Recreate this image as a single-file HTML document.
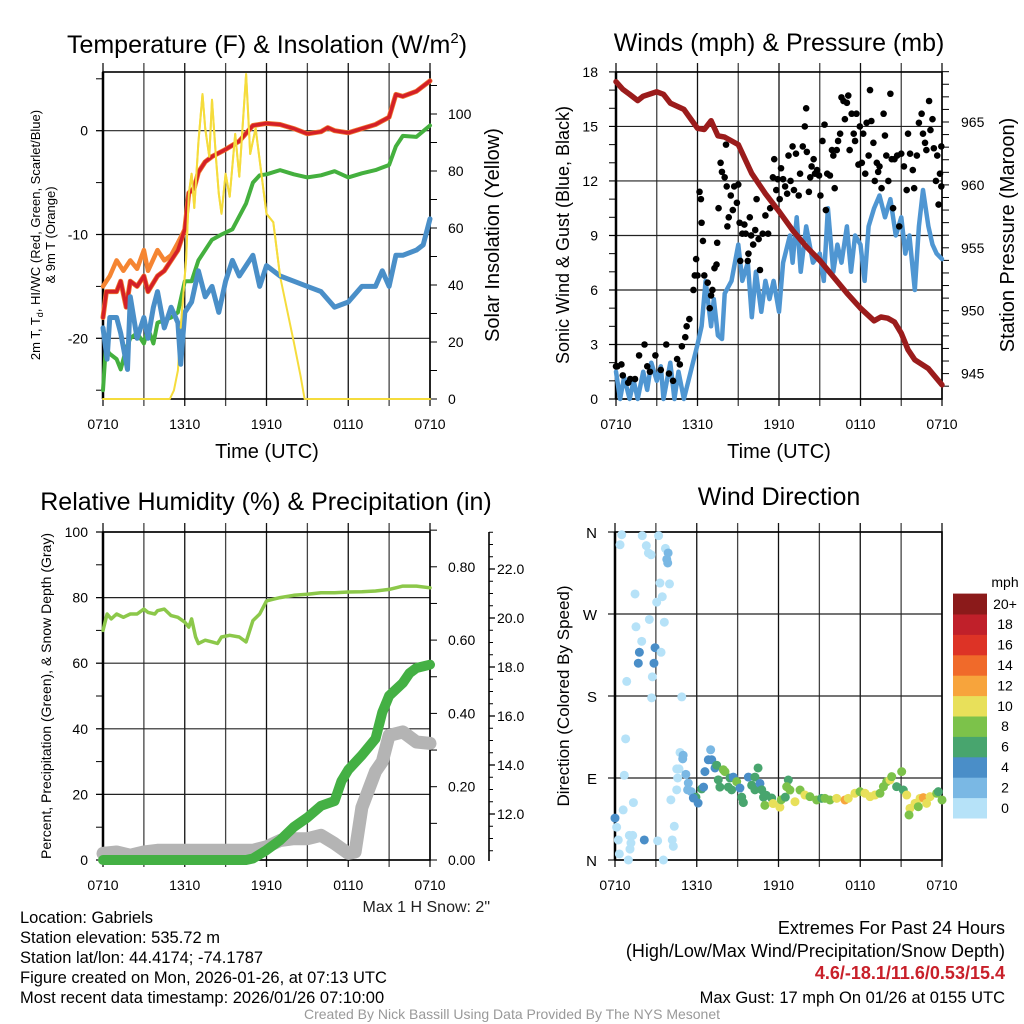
<!DOCTYPE html>
<html><head><meta charset="utf-8"><style>
html,body{margin:0;padding:0;background:#fff;}
svg{display:block;font-family:"Liberation Sans",Arial,sans-serif;}
</style></head><body>
<svg id="chart" xmlns="http://www.w3.org/2000/svg" width="1024" height="1024" viewBox="0 0 1024 1024">
<rect width="1024" height="1024" fill="#fff"/>
<text x="267" y="53" font-size="25" text-anchor="middle">Temperature (F) &amp; Insolation (W/m<tspan font-size="15" dy="-10">2</tspan><tspan dy="10">)</tspan></text>
<text x="779" y="51" font-size="25" text-anchor="middle">Winds (mph) &amp; Pressure (mb)</text>
<text x="266" y="510" font-size="25" text-anchor="middle">Relative Humidity (%) &amp; Precipitation (in)</text>
<text x="779" y="505" font-size="25" text-anchor="middle">Wind Direction</text>
<text x="267" y="458" font-size="20" text-anchor="middle">Time (UTC)</text>
<text x="779" y="458" font-size="20" text-anchor="middle">Time (UTC)</text>
<text transform="translate(40,235) rotate(-90)" font-size="13" text-anchor="middle">2m T, T<tspan font-size="9" dy="3">d</tspan><tspan dy="-3">, HI/WC (Red, Green, Scarlet/Blue)</tspan></text>
<text transform="translate(55,235) rotate(-90)" font-size="13" text-anchor="middle">&amp; 9m T (Orange)</text>
<text transform="translate(499,235) rotate(-90)" font-size="20" text-anchor="middle">Solar Insolation (Yellow)</text>
<text transform="translate(569,235) rotate(-90)" font-size="18" text-anchor="middle">Sonic Wind &amp; Gust (Blue, Black)</text>
<text transform="translate(1014,235) rotate(-90)" font-size="20" text-anchor="middle">Station Pressure (Maroon)</text>
<text transform="translate(51,696) rotate(-90)" font-size="14" text-anchor="middle">Percent, Precipitation (Green), &amp; Snow Depth (Gray)</text>
<text transform="translate(569,696) rotate(-90)" font-size="17" text-anchor="middle">Direction (Colored By Speed)</text>
<text x="490" y="912" font-size="16" text-anchor="end" fill="#222">Max 1 H Snow: 2"</text>
<g font-size="16.5" fill="#000">
<text x="20" y="923">Location: Gabriels</text>
<text x="20" y="943">Station elevation: 535.72 m</text>
<text x="20" y="963">Station lat/lon: 44.4174; -74.1787</text>
<text x="20" y="983">Figure created on Mon, 2026-01-26, at 07:13 UTC</text>
<text x="20" y="1003">Most recent data timestamp: 2026/01/26 07:10:00</text>
</g>
<g font-size="18" text-anchor="end">
<text x="1005" y="934">Extremes For Past 24 Hours</text>
<text x="1005" y="957">(High/Low/Max Wind/Precipitation/Snow Depth)</text>
<text x="1005" y="979" fill="#c8202a" font-weight="bold">4.6/-18.1/11.6/0.53/15.4</text>
<text x="1005" y="1003" font-size="16.5">Max Gust: 17 mph On 01/26 at 0155 UTC</text>
</g>
<text x="512" y="1019" font-size="14" fill="#999" text-anchor="middle">Created By Nick Bassill Using Data Provided By The NYS Mesonet</text>
<g id="layer"></g>
</svg>
<script>
// ---------- Panel 1: temperature ----------
const tempHours=[0,0.25,1,1.3,1.7,2,2.5,3,3.3,4,4.5,5,5.5,6,6.3,6.7,7,7.5,8,9,10,11,12,13,14,15,16,16.5,17,18,19,20,21,21.5,22,23,24];
const tempValues=[-18,-15.5,-15.5,-14.5,-17,-14.5,-15,-14,-15.5,-14,-13.5,-12.5,-11.5,-9.5,-6,-5.5,-4,-3,-2.5,-1.8,-1,0.5,0.7,0.6,0.2,-0.3,-0.1,0.3,0,-0.2,0.2,0.6,1.3,3.5,3.3,3.8,4.8];
const t9mHours=[0,0.5,1,1.5,2,2.5,3,3.3,4,4.5,5,5.5,6];
const t9mValues=[-15,-14,-12.5,-13.5,-12.5,-13.3,-11.5,-13.5,-11.5,-12.5,-12,-10.8,-9.5];
const dewHours=[0,0.2,0.5,1,1.3,1.7,2,2.5,3,3.3,3.7,4,5,5.5,6,6.5,7,8,8.7,9.5,10.5,11,11.5,12,13,14,15,16,17,18,19,20,21,21.5,22,23,24];
const dewValues=[-25,-21,-21.5,-22,-23,-21,-20,-19.5,-20.5,-19,-20.5,-18.5,-18,-17.5,-14.5,-14.5,-12.5,-10.5,-10,-9.5,-7,-5,-4.3,-4.2,-3.8,-4.2,-4.5,-4.3,-3.9,-4.5,-4.1,-3.8,-3.3,-1.5,-0.5,-0.6,0.5];
const wcHours=[0,0.3,0.5,1,1.3,1.8,2,2.5,3,3.3,3.7,4,4.5,5,5.5,5.7,6,6.5,7,7.5,8,8.5,9,9.5,10,10.5,11,11.5,12,13,14,15,16,17,18,19,20,20.5,21,21.5,22,23,23.5,24];
const wcValues=[-19,-22,-18,-18,-19.5,-23,-16,-20,-18,-20,-17,-15.5,-19,-17,-18.5,-22.5,-17.5,-16.5,-13.5,-16,-15,-17.5,-14.5,-12.5,-14,-13,-12,-15,-13,-14,-14.5,-15,-15.5,-17,-16.5,-15,-15,-13.5,-15,-12,-12,-11.5,-11,-8.5];
const solarHours=[0,4.9,5.2,5.5,5.7,6.1,6.3,6.5,6.7,7,7.3,7.5,7.8,8,8.3,8.5,8.7,9,9.3,9.7,10,10.5,10.8,11.2,12,12.5,13,14,14.5,14.8,24];
const solarValues=[0,0,3,10,25,49,72,79,67,90,107,95,85,105,84,72,65,79,71,93,78,114,86,95,65,62,43,20,8,0,0];
const tempTicks=[-20,-10,0];
const solarTicks=[0,20,40,60,80,100];
const timeLabels=["0710","1310","1910","0110","0710"];
// ---------- Panel 2: winds ----------
const presHours=[0,0.5,1,1.6,2,3,3.5,4,5,6,6.5,7,7.5,8,9,10,11,12,13,14,15,16,17,18,19,19.5,20,20.5,21,21.5,22,23,24];
const presValues=[968.2,967.6,967.2,966.7,967.05,967.4,967.2,966.5,966,964.5,964.4,965.1,963.9,963.8,963.2,960.9,959.3,957.9,956.4,955.1,954,952.7,951.4,950.2,949.2,949.5,949.4,949.1,948.2,946.9,946.1,945.4,944.1];
const windHours=[0,0.3,0.6,1,1.3,1.6,2,2.3,2.6,3,3.3,3.5,4,4.3,4.6,5,5.5,6,6.3,6.6,7,7.2,7.5,7.8,8,8.5,9,9.3,9.7,10,10.3,10.7,11,11.3,11.6,12,12.3,12.8,13,13.3,13.6,14,14.5,15,15.3,15.6,16,16.3,16.6,17,17.3,17.6,18,18.3,18.6,19,19.4,19.8,20.2,20.6,21,21.3,21.6,22,22.3,22.6,23,23.3,23.6,24];
const windValues=[1.5,0,1.2,0,1,0,1.5,0.5,2,1,1.8,0,2,0,1.5,0,1.5,3,4,6.5,4,5.5,3.5,3.3,5.8,6.5,8.5,6.5,7.5,4.5,7,4.8,6.5,5.5,6.5,4.8,7.5,9,7.5,10,7,9.5,7.5,8,6.5,10.5,7,8.5,7.5,9.5,7,9,8.5,6.5,9.5,10.5,11.2,10,11,9,10,8,9,6,9.5,11.5,9.5,8.5,8,7.7];
const gustHours=[0,0.1,0.4,0.5,0.9,1.05,1.4,1.7,2.1,2.3,2.5,2.9,3.3,3.7,3.9,4.2,4.5,4.7,4.85,5.1,5.2,5.4,5.7,5.8,5.9,6,6.15,6.25,6.3,6.4,6.5,6.75,6.9,7,7.1,7.25,7.4,7.45,7.55,7.7,7.8,8,8.1,8.15,8.2,8.3,8.45,8.6,8.7,8.9,9,9.1,9.15,9.3,9.45,9.55,9.7,9.75,9.85,9.95,10.1,10.25,10.35,10.5,10.6,10.8,11,11.2,11.35,11.55,11.65,11.8,11.9,12.05,12.15,12.3,12.45,12.6,12.7,12.85,13,13.1,13.25,13.45,13.55,13.75,13.9,14,14.05,14.2,14.3,14.4,14.55,14.65,14.8,14.95,15.05,15.2,15.35,15.45,15.55,15.75,15.9,16,16.1,16.25,16.35,16.5,16.6,16.75,16.85,17,17.1,17.2,17.35,17.5,17.6,17.7,17.85,17.95,18.1,18.2,18.35,18.45,18.6,18.7,18.8,18.95,19.05,19.2,19.3,19.4,19.55,19.7,19.8,19.9,20.05,20.2,20.3,20.4,20.5,20.7,20.85,21,21.2,21.4,21.5,21.65,21.85,21.95,22.15,22.3,22.5,22.6,22.75,22.85,23.05,23.15,23.3,23.4,23.55,23.65,23.75,23.85,23.95,23.95];
const gustValues=[1.8,1.8,1.9,1.3,0.9,1.1,1.1,2.4,3.0,1.8,1.5,2.4,1.6,3.0,1.4,1.0,2.2,1.9,2.9,3.4,4.0,4.4,6.0,6.8,7.7,6.8,11.4,11.0,9.7,8.7,6.8,6.4,5.0,5.7,6.0,7.2,7.4,8.6,10.5,13.0,12.5,12.2,14.0,11.7,9.5,10.0,11.2,10.4,11.7,10.8,11.8,9.7,7.6,9.1,9.6,9.1,7.6,8.0,10.0,9.0,8.5,9.3,11.0,8.8,7.1,9.1,10.1,9.1,10.5,12.2,13.2,11.5,12.1,11.0,12.7,12.1,11.7,11.3,13.4,12.0,13.9,11.5,13.5,11.2,12.4,13.9,15.0,16.0,13.6,11.4,12.2,12.8,13.2,12.4,12.6,12.3,11.2,14.2,15.1,10.4,12.4,12.3,13.7,13.4,11.6,13.7,14.2,14.6,16.6,16.4,15.4,16.3,16.7,13.7,15.7,14.6,14.2,15.7,12.9,15.0,13.0,14.6,12.4,15.2,13.4,17.0,15.3,14.1,12.0,13.0,12.5,12.8,11.6,15.7,14.5,13.4,12.0,16.8,13.2,10.5,13.2,13.4,9.5,13.5,12.8,11.5,14.6,13.5,12.6,11.6,13.4,15.2,15.7,14.6,14.1,13.7,16.4,14.8,15.4,13.8,12.0,13.4,10.7,12.4,11.7,13.9];
const windTicks=[0,3,6,9,12,15,18];
const presTicks=[945,950,955,960,965];
// ---------- Panel 3: humidity / precip / snow ----------
const rhHours=[0,0.3,0.6,1,1.5,2,2.5,3,3.3,3.8,4,4.5,5,5.5,6,6.3,6.5,6.8,7,7.5,8,8.4,8.7,9.3,10,10.5,11,11.5,12,12.5,13,14,15,16,17,18,19,20,21,21.5,22,23,24];
const rhValues=[70,75,73.5,75,74,75,75,76.5,75.5,75,76,76.5,74.5,74,72.5,71,73.5,68,66,67,66.5,66,68,68.5,68,66.5,73,75,79,79.5,80,80.7,81,81.5,81.5,81.7,81.8,82,82.5,83,83.5,83.5,83];
const precipHours=[0,10.5,11,12,13,14,15,16,17,17.5,18,19,20,20.5,21,22,22.5,23,24];
const precipValues=[0,0,0.004,0.027,0.054,0.09,0.116,0.148,0.161,0.215,0.246,0.286,0.331,0.403,0.448,0.483,0.51,0.524,0.533];
const snowHours=[0,1,2,3,4,6,8,10,11,12,13,14,15,16,17,18,18.5,19,20,20.5,21,22,23,24];
const snowValues=[10.39,10.45,10.32,10.45,10.52,10.52,10.52,10.52,10.52,10.66,10.92,10.99,10.99,11.13,10.79,10.39,10.45,12.27,13.74,14.14,15.21,15.35,14.94,14.88];
const pctTicks=[0,20,40,60,80,100];
const precipTicks=[0,0.2,0.4,0.6,0.8];
const snowTicks=[12,14,16,18,20,22];
// ---------- Panel 4: wind direction ----------
const dirHours=[0.49,0.37,2.0,2.3,2.45,2.65,3.2,3.7,3.9,3.8,3.87,3.3,4.0,1.47,3.47,3.06,2.52,3.62,1.54,1.96,2.94,1.79,3.38,1.71,2.86,2.74,0.86,2.69,4.9,0.78,4.77,5.0,4.97,4.53,4.7,5.2,0.68,4.6,5.38,5.33,5.6,5.94,5.75,6.1,6.36,6.5,4.53,4.1,1.35,0.6,0,0.12,0.24,1.05,1.3,1.17,1.1,2.15,3.13,4.2,4.28,4.35,0.32,0.98,3.55,7.02,6.85,7.1,6.6,7.34,7.46,7.95,8.07,7.58,7.7,8.44,8.68,8.32,8.56,8.93,9.17,9.3,9.42,9.79,10.27,10.5,10.03,10.27,10.64,10.77,10.9,11.1,11.5,11.0,11.6,12.1,12.2,12.5,12.72,12.6,12.84,13.21,13.58,13.94,14.31,14.8,15.17,15.41,15.78,16.27,16.88,17.12,17.61,17.98,18.35,18.72,19.08,19.45,19.7,19.94,20.18,20.31,20.67,21.04,21.16,21.41,21.65,21.58,22.02,22.39,22.63,22.26,22.87,23.12,23.61,23.73,24];
const dirValues=[357,346,356,345,337,335,356,342,337,330,326,304,303,292,289,283,264,261,256,240,233,228,228,216,216,201,196,178,179,133,118,115,111,100,100,94,93,90,84.5,77,75,69,68,62.5,78,80,77,66,63,55,46,36,22,27,27,18.6,12,22,21,22,15,37,6.6,0,0,121,110,110,97,101,104,99,97,88,80,90,91,80,77,86,79,69,63,91,91,101,82,77,84,77,69,71,68,60,62,58,66,69,87.8,80.5,76.8,64,76.8,71.3,69.5,65.9,67.7,67.7,65.9,67.7,65.9,67.7,73.2,75,73.2,69.5,71.3,73.2,80.5,86,87.8,91.5,80.5,97,76.8,71.3,56.7,49.4,62.2,67.7,68.4,58.5,62.2,69.5,73.2,75,65.9];
const dirSpeeds=[0,0,0,0,0,0,0,0,2,2,2,0,0,0,0,0,0,0,0,0,4,4,0,4,4,0,0,0,0,0,0,2,2,0,0,2,0,0,2,2,2,6,4,4,6,4,0,0,0,0,4,0,0,0,0,0,0,4,0,0,0,0,0,0,0,2,4,4,4,4,6,8,8,6,6,6,4,6,6,8,4,6,6,4,6,6,6,6,4,6,6,6,6,8,10,10,8,6,6,8,8,10,8,10,8,8,6,8,8,10,12,10,10,8,10,10,10,8,8,8,10,8,6,8,6,10,10,8,10,10,12,8,10,10,8,6,8];
const dirTicks=[0,90,180,270,360];
const dirTickLabels=["N","E","S","W","N"];
const speedClasses=[0,2,4,6,8,10,12,14,16,18,20];
const speedLabels=["0","2","4","6","8","10","12","14","16","18","20+"];
const speedColors=["#b6e2f8","#7ab8e4","#4a8ec8","#48a56e","#7cc24a","#e8e05a","#f7a43c","#f06a2a","#dd3326","#c0202a","#8b1a1a"];

// ---------- scales ----------
const NS="http://www.w3.org/2000/svg";
const layer=document.getElementById('layer');
function mk(tag,attrs,parent){const e=document.createElementNS(NS,tag);for(const k in attrs)e.setAttribute(k,attrs[k]);(parent||layer).appendChild(e);return e;}
function xs(x0,x1){return t=>x0+t/24*(x1-x0);}
const P1={x0:103,x1:430,y0:72,y1:399};
const P2={x0:616,x1:942,y0:72,y1:399};
const P3={x0:103,x1:430,y0:532,y1:860};
const P4={x0:615,x1:942,y0:532,y1:860};
const x1s=xs(P1.x0,P1.x1), x2s=xs(P2.x0,P2.x1), x3s=xs(P3.x0,P3.x1), x4s=xs(P4.x0,P4.x1);
const yTemp=v=>130.7-v*10.38;
const ySolar=v=>399-v*2.85;
const yWind=v=>399-v*18.17;
const yPres=p=>122+(965-p)*12.58;
const yPct=v=>860-v*3.28;
const yPrecip=p=>860-p*366.5;
const ySnow=s=>814-(s-12)*24.5;
const yDir=d=>860-d*328/360;

function grid(P,hLines,name){
  const g=mk('g',{});
  
  
  for(let i=0;i<=8;i++){const x=P.x0+i*(P.x1-P.x0)/8;mk('line',{x1:x,x2:x,y1:P.y0-9,y2:P.y1+7,stroke:i%2?'#444':'#111','stroke-width':1.3},g);}
  hLines.forEach(y=>mk('line',{x1:P.x0-7,x2:P.x1,y1:y,y2:y,stroke:'#222','stroke-width':1.2},g));
  mk('rect',{x:P.x0,y:P.y0,width:P.x1-P.x0,height:P.y1-P.y0,fill:'none',stroke:'#000','stroke-width':1.6},g);
  mk('line',{x1:P.x0,x2:P.x0,y1:P.y0,y2:P.y1,stroke:'#000','stroke-width':2.5},g);
}
function xLabels(P,y,name){
  timeLabels.forEach((l,i)=>{const t=mk('text',{x:P.x0+i*(P.x1-P.x0)/4,y:y,'font-size':14,'text-anchor':'middle'});t.textContent=l;
    
    });
}
function yLabels(vals,fy,x,anchor,name,fmt){
  vals.forEach(v=>{const t=mk('text',{x:x,y:fy(v)+5,'font-size':14,'text-anchor':anchor});t.textContent=fmt?fmt(v):String(v);
    
    });
}
function ticks(vals,fy,x,len,w){vals.forEach(v=>mk('line',{x1:x,x2:x+len,y1:fy(v),y2:fy(v),stroke:'#000','stroke-width':w||1}));}
function range(a,b,s){const r=[];for(let v=a;v<=b+1e-9;v+=s)r.push(+v.toFixed(4));return r;}
function path(hs,vs,fx,fy,color,w,name){
  let d='';hs.forEach((h,i)=>{d+=(i?'L':'M')+fx(h).toFixed(1)+','+fy(vs[i]).toFixed(1);});
  const p=mk('path',{d:d,fill:'none',stroke:color,'stroke-width':w,'stroke-linejoin':'round','stroke-linecap':'round'});
  
  
  return p;
}

// Panel 1
grid(P1,tempTicks.map(yTemp),'temperature');
ticks(range(-25,5,5),yTemp,P1.x0-7,7);
ticks(range(0,110,10),ySolar,P1.x1,7);
yLabels(tempTicks,yTemp,88,'end','temp-y');
yLabels(solarTicks,ySolar,448,'start','solar-y');
xLabels(P1,429,'temp');
path(solarHours,solarValues,x1s,ySolar,'#f5dc3c',2,'solar-insolation-line');
path(t9mHours,t9mValues,x1s,yTemp,'#f58532',4.5,'9m-temperature-line');
path(tempHours,tempValues,x1s,yTemp,'#f07a2e',5,'9m-temperature-line-overlay');
path(tempHours,tempValues,x1s,yTemp,'#d42027',3.5,'2m-temperature-line');
path(dewHours,dewValues,x1s,yTemp,'#44b03e',4,'dewpoint-line');
path(wcHours,wcValues,x1s,yTemp,'#4a8fc8',5,'wind-chill-line');
path(solarHours.slice(4,27),solarValues.slice(4,27),x1s,ySolar,'#f5dc3c',2,'solar-insolation-peak');

// Panel 2
grid(P2,windTicks.map(yWind),'winds');
ticks(range(0,18,1),yWind,P2.x0-7,7);
ticks(range(944,969,1),yPres,P2.x1,7);
yLabels(windTicks,yWind,598,'end','wind-y');
yLabels(presTicks,yPres,961,'start','pressure-y');
xLabels(P2,429,'winds');
path(windHours,windValues,x2s,yWind,'#4f96d2',4.5,'sonic-wind-line');
gustHours.forEach((h,i)=>{const c=mk('circle',{cx:x2s(h),cy:yWind(gustValues[i]),r:3.3,fill:'#000'});
  
  });
path(presHours,presValues,x2s,yPres,'#9b1c1c',5.5,'pressure-line');

// Panel 3
grid(P3,pctTicks.map(yPct),'humidity');
ticks(range(0,100,10),yPct,P3.x0-7,7);
ticks(range(0,0.9,0.1),yPrecip,P3.x1,7);
yLabels(pctTicks,yPct,88,'end','percent-y');
yLabels(precipTicks,yPrecip,448,'start','precip-y',v=>v.toFixed(2));
mk('line',{x1:489,x2:489,y1:532,y2:861,stroke:'#000','stroke-width':1.6});
ticks(range(10.5,23.5,0.5),ySnow,489,4);
ticks(snowTicks,ySnow,489,6,1.3);
yLabels(snowTicks,ySnow,497,'start','snow-y',v=>v.toFixed(1));
xLabels(P3,890,'humidity');
path(snowHours,snowValues,x3s,ySnow,'#b4b4b4',13,'snow-depth-line');
path(precipHours,precipValues,x3s,yPrecip,'#44b044',10,'precipitation-line');
path(rhHours,rhValues,x3s,yPct,'#8cc84a',3.5,'relative-humidity-line');

// Panel 4
grid(P4,dirTicks.map(yDir),'direction');
dirTicks.forEach((d,i)=>{const t=mk('text',{x:597,y:yDir(d)+6,'font-size':15,'text-anchor':'end'});t.textContent=dirTickLabels[i];
  
  });
xLabels(P4,890,'direction');
dirHours.forEach((h,i)=>{const ci=speedClasses.indexOf(dirSpeeds[i]);
  const c=mk('circle',{cx:x4s(h),cy:yDir(dirValues[i]),r:4.5,fill:speedColors[ci<0?0:ci]});
  
  });
// colorbar
const cb=mk('g',{});


const boxH=20.4, cbBottom=818;
speedColors.forEach((c,i)=>{mk('rect',{x:953,y:cbBottom-(i+1)*boxH,width:34,height:boxH+0.5,fill:c},cb);
  const t=mk('text',{x:1005,y:cbBottom-i*boxH-boxH/2+5,'font-size':14,'text-anchor':'middle'},cb);t.textContent=speedLabels[i];
  
  });
const mph=mk('text',{x:1005,y:587,'font-size':14,'text-anchor':'middle'},cb);mph.textContent='mph';


</script>
</body></html>
